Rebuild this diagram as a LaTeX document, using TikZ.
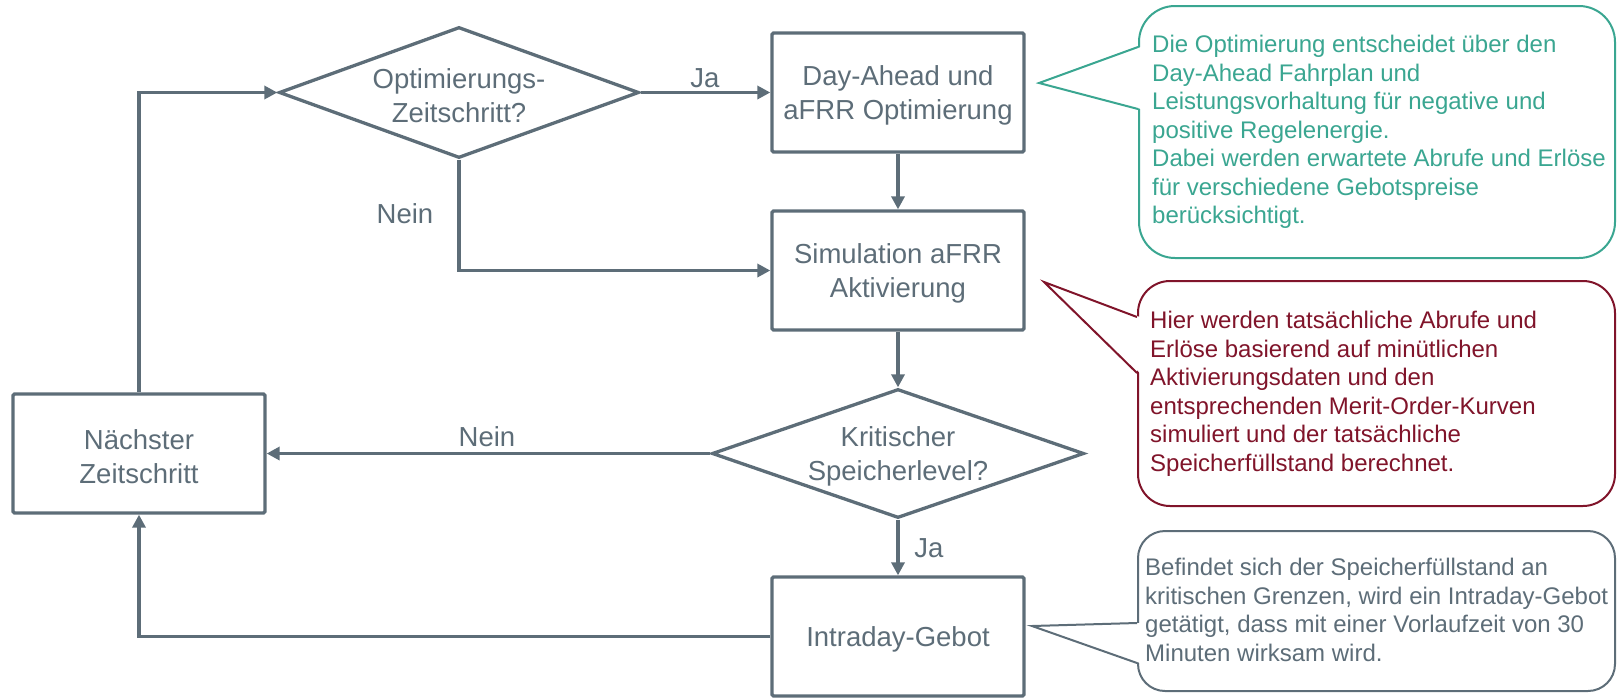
\documentclass[tikz,border=0pt]{standalone}
\usepackage{fontspec}
\setmainfont{Liberation Sans}
\usetikzlibrary{arrows.meta,shapes.geometric,calc}
\definecolor{mgray}{HTML}{5D6D78}
\definecolor{mteal}{HTML}{3AA691}
\definecolor{mred}{HTML}{80142A}
\newcommand{\lw}[1]{\raisebox{-3pt}[\height][\depth]{#1}}
\begin{document}
\begin{tikzpicture}[x=1pt,y=-1pt,
  every node/.style={font=\fontsize{27.5}{34.5}\selectfont, text=mgray},
  procbox/.style={draw=mgray, line width=3.3pt, rounded corners=1.5pt, minimum width=252pt, minimum height=119pt, inner sep=0pt, align=center},
  decbox/.style={draw=mgray, line width=3.3pt, shape=diamond, inner sep=0pt, align=center},
  conn/.style={draw=mgray, line width=3.3pt, -{Triangle[length=13pt,width=13pt]}},
  lbl/.style={inner sep=0pt},
  cbox/.style={line width=2pt, fill=white, inner sep=0pt, anchor=north west},
  ctext/.style={font=\fontsize{24}{28.5}\selectfont, align=left, inner sep=0pt, anchor=west},
  pointer/.style={line width=2pt, line join=miter},
]
\useasboundingbox (0,0) rectangle (1617,697);

% process boxes
\node[procbox] (da)  at (898,92.5)  {\lw{Day-Ahead und}\\\lw{aFRR Optimierung}};
\node[procbox] (sim) at (898,270.5) {\lw{Simulation aFRR}\\\lw{Aktivierung}};
\node[procbox] (id)  at (898,636.5) {\lw{Intraday-Gebot}};
\node[procbox] (nz)  at (139,453.5) {\lw{Nächster}\\\lw{Zeitschritt}};

% decisions
\node[decbox, aspect=2.75, minimum width=360pt, minimum height=131pt] (d1) at (459,92.5) {\lw{Optimierungs-}\\\lw{Zeitschritt?}};
\node[decbox, aspect=2.88, minimum width=372pt, minimum height=129pt] (d2) at (898,453.5) {\lw{Kritischer}\\\lw{Speicherlevel?}};

% connectors
\draw[conn] (nz.north) |- (d1.west);
\draw[conn] (d1.east) -- (da.west);
\draw[conn] (d1.south) |- (sim.west);
\draw[conn] (da.south) -- (sim.north);
\draw[conn] (sim.south) -- (d2.north);
\draw[conn] (d2.west) -- (nz.east);
\draw[conn] (d2.south) -- (id.north);
\draw[conn] (id.west) -| (nz.south);

% connector labels
\node[lbl] (ja1)   at (705,78)  {Ja};
\node[lbl] (nein1) at (405,214) {Nein};
\node[lbl] (nein2) at (487,437) {Nein};
\node[lbl] (ja2)   at (929,548) {Ja};

% callout 1 (teal)
\node[cbox, draw=mteal, rounded corners=36pt, minimum width=476pt, minimum height=252pt] (c1) at (1138,5) {};
\coordinate (c1tip) at (1039,83);
\coordinate (c1a) at (1138,47);
\coordinate (c1b) at (1138,109);
\fill[white] (c1tip) -- ($(c1a)+(3,0)$) -- ($(c1b)+(3,0)$) -- cycle;
\draw[pointer, mteal] (c1a) -- (c1tip) -- (c1b);
\node[ctext, text=mteal] (t1) at (1152,132) {Die Optimierung entscheidet über den\\Day-Ahead Fahrplan und\\Leistungsvorhaltung für negative und\\positive Regelenergie.\\Dabei werden erwartete Abrufe und Erlöse\\für verschiedene Gebotspreise\\berücksichtigt.};

% callout 2 (red)
\node[cbox, draw=mred, rounded corners=32pt, minimum width=477pt, minimum height=225pt] (c2) at (1137,280) {};
\coordinate (c2tip) at (1044,282);
\coordinate (c2a) at (1137,317);
\coordinate (c2b) at (1137,373);
\fill[white] (c2tip) -- ($(c2a)+(3,0)$) -- ($(c2b)+(3,0)$) -- cycle;
\draw[pointer, mred] (c2a) -- (c2tip) -- (c2b);
\node[ctext, text=mred] (t2) at (1150,394) {Hier werden tatsächliche Abrufe und\\Erlöse basierend auf minütlichen\\Aktivierungsdaten und den\\entsprechenden Merit-Order-Kurven\\simuliert und der tatsächliche\\Speicherfüllstand berechnet.};

% callout 3 (gray)
\node[cbox, draw=mgray, rounded corners=27pt, minimum width=477pt, minimum height=160pt] (c3) at (1137,530) {};
\coordinate (c3tip) at (1032,626);
\coordinate (c3a) at (1137,623);
\coordinate (c3b) at (1137,663);
\fill[white] (c3tip) -- ($(c3a)+(3,0)$) -- ($(c3b)+(3,0)$) -- cycle;
\draw[pointer, mgray] (c3a) -- (c3tip) -- (c3b);
\node[ctext, text=mgray] (t3) at (1145,610) {Befindet sich der Speicherfüllstand an\\kritischen Grenzen, wird ein Intraday-Gebot\\getätigt, dass mit einer Vorlaufzeit von 30\\Minuten wirksam wird.};
\end{tikzpicture}
\end{document}
